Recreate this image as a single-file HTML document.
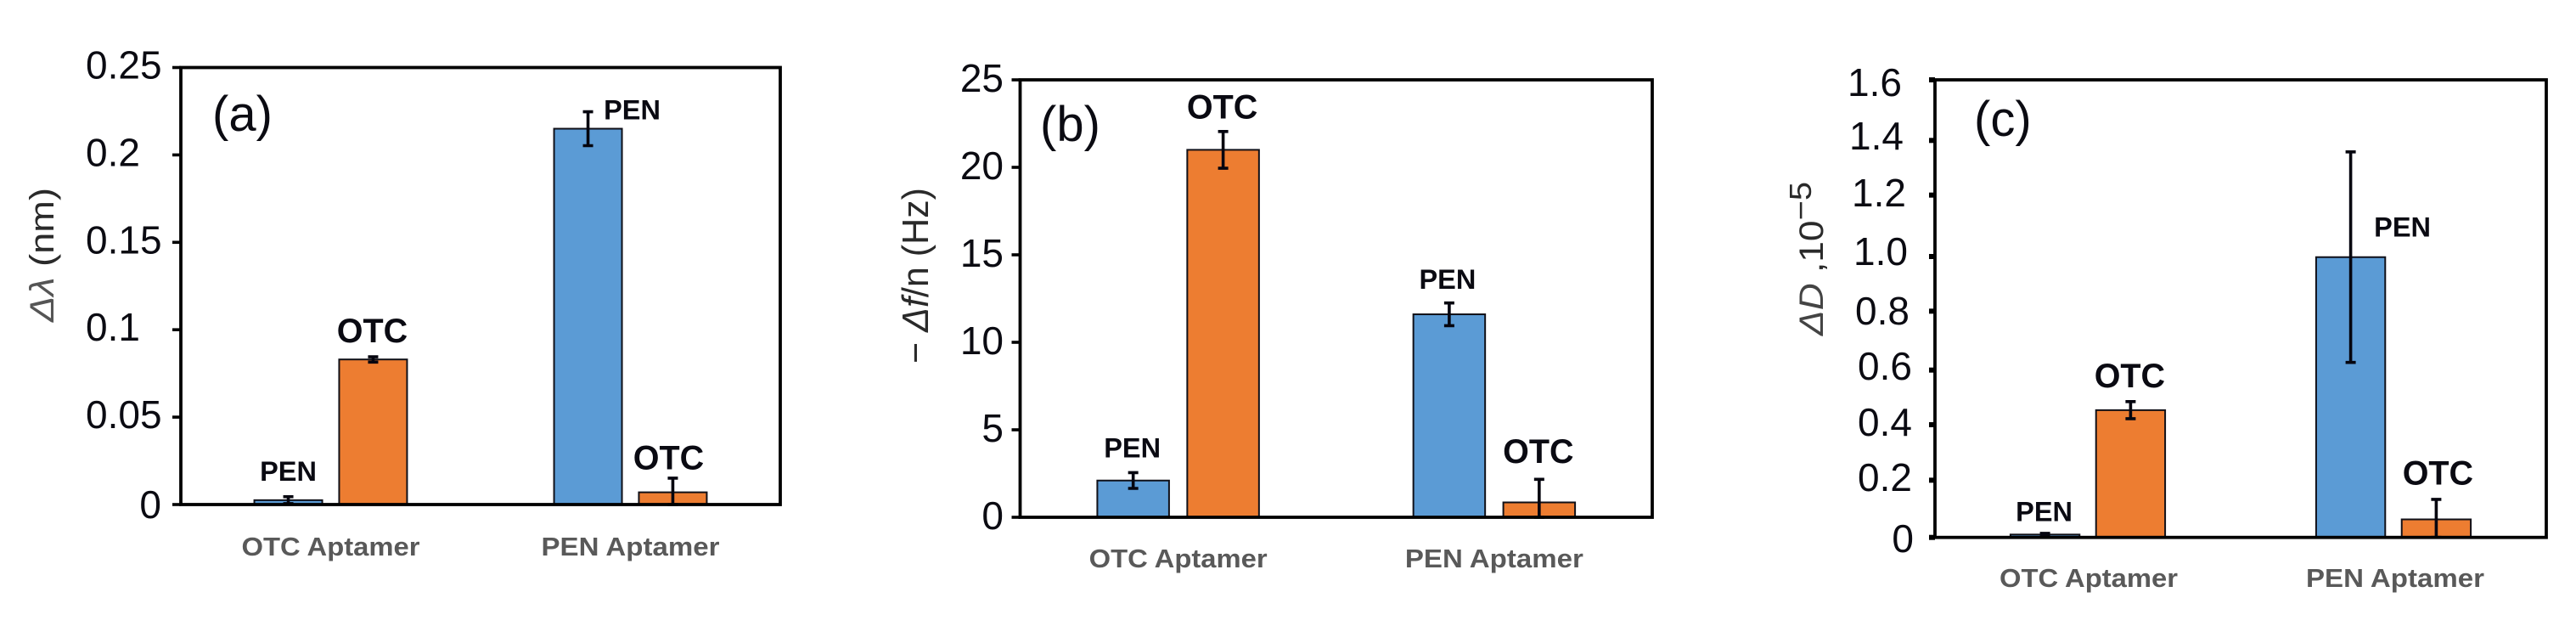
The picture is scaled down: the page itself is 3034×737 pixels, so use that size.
<!DOCTYPE html>
<html>
<head>
<meta charset="utf-8">
<title>Aptamer response bar charts</title>
<style>
html,body{margin:0;padding:0;background:#fff;width:3034px;height:737px;overflow:hidden}
svg{display:block;font-family:"Liberation Sans",sans-serif}
</style>
</head>
<body>
<svg id="figure" xmlns="http://www.w3.org/2000/svg" width="3034" height="737" viewBox="0 0 3034 737"></svg>
<script>
const categories = ['OTC Aptamer', 'PEN Aptamer'];
const seriesNames = ['PEN', 'OTC'];

const ticksA = ['0', '0.05', '0.1', '0.15', '0.2', '0.25'];
const penA = [0.0025, 0.215];
const otcA = [0.083, 0.007];
const penErrA = [0.002, 0.0097];
const otcErrA = [0.0015, 0.0081];

const ticksB = ['0', '5', '10', '15', '20', '25'];
const penB = [2.1, 11.6];
const otcB = [21, 0.85];
const penErrB = [0.45, 0.65];
const otcErrB = [1.05, 1.32];

const ticksC = ['0', '0.2', '0.4', '0.6', '0.8', '1.0', '1.2', '1.4', '1.6'];
const penC = [0.01, 0.98];
const otcC = [0.445, 0.063];
const penErrC = [0.004, 0.368];
const otcErrC = [0.03, 0.07];

const NS = 'http://www.w3.org/2000/svg';
const root = document.getElementById('figure');

function make(tag, attrs, parent, text) {
  const el = document.createElementNS(NS, tag);
  for (const k in attrs) el.setAttribute(k, attrs[k]);
  if (text !== undefined) el.textContent = text;
  (parent || root).appendChild(el);
  return el;
}

function drawPanel(p) {
  const group = make('g', {}, root);
  
  

  const max = parseFloat(p.ticks[p.ticks.length - 1]);
  const yScale = v => p.bottom - (v / max) * (p.bottom - p.top);
  const band = (p.right - p.left) / categories.length;
  const xCenter = i => p.left + band * (i + 0.5);
  const barW = band * p.barFrac;
  const offset = band * p.offFrac;

  // bars and error bars
  [p.pen, p.otc].forEach((vals, s) => {
    const errs = s === 0 ? p.penErr : p.otcErr;
    vals.forEach((v, i) => {
      const cx = xCenter(i) + (s === 0 ? -offset : offset);
      const y = yScale(v);
      const bar = make('rect', {x: cx - barW / 2, y: y, width: barW, height: p.bottom - y,
        fill: s === 0 ? '#5B9BD5' : '#ED7D31', stroke: '#101018', 'stroke-width': 2}, group);
      
      

      const hi = yScale(v + errs[i]);
      const lo = Math.min(yScale(v - errs[i]), p.bottom);
      const err = make('path', {d: 'M' + cx + ' ' + hi + 'V' + lo +
        'M' + (cx - 6) + ' ' + hi + 'H' + (cx + 6) +
        'M' + (cx - 6) + ' ' + lo + 'H' + (cx + 6),
        stroke: '#05050f', 'stroke-width': 3.6, fill: 'none'}, group);
      
      

      const anno = p.annot[s][i];
      const lab = make('text', {x: cx + anno[0], y: y + anno[1], 'text-anchor': 'middle', 'font-weight': 'bold',
        'font-size': s === 0 ? 32.5 : 39.5, fill: '#0a0a12'}, group, seriesNames[s]);
      
      
    });
  });

  // frame
  const frame = make('rect', {x: p.left, y: p.top, width: p.right - p.left, height: p.bottom - p.top,
    fill: 'none', stroke: '#000', 'stroke-width': 3.8}, group);
  
  

  // ticks and tick labels
  p.ticks.forEach((t, i) => {
    const y = yScale(parseFloat(t)) + (p.tickNudge ? p.tickNudge[i] : 0);
    const tick = make('line', {x1: p.left - p.tickLen, x2: p.left, y1: y, y2: y, stroke: '#000',
      'stroke-width': p.tickW}, group);
    
    

    const place = p.tickLabel(t, i, y);
    const lab = make('text', {x: place.x, y: place.y, 'text-anchor': place.anchor, 'font-size': 46,
      fill: '#0b0b12'}, group, t);
    
    
  });

  // category labels
  categories.forEach((c, i) => {
    const lab = make('text', {x: xCenter(i) + p.catDx[i], y: p.catY, 'text-anchor': 'middle', 'font-weight': 'bold',
      'font-size': 31, fill: '#595959', textLength: 210, lengthAdjust: 'spacingAndGlyphs'}, group, c);
    
    
  });

  // panel tag
  const tag = make('text', {x: p.tagX, y: p.tagY, 'font-size': 58, fill: '#0b0b12'}, group, '(' + p.id + ')');
  
  

  // y axis title
  const title = make('text', {transform: 'translate(' + p.titleX + ' ' + p.titleY + ') rotate(-90)',
    'font-size': p.titleSize, fill: '#2a2a2a', textLength: p.titleLen, lengthAdjust: 'spacingAndGlyphs'}, group);
  
  
  p.title.forEach(part => {
    const attrs = {};
    if (part.italic) attrs['font-style'] = 'italic';
    if (part.dy) attrs.dy = part.dy;
    if (part.size) attrs['font-size'] = part.size;
    if (part.fill) attrs.fill = part.fill;
    make('tspan', attrs, title, part.t);
  });
}

drawPanel({
  id: 'a', ticks: ticksA, pen: penA, otc: otcA, penErr: penErrA, otcErr: otcErrA,
  left: 213, right: 919, top: 79.5, bottom: 594, barFrac: 0.2266, offFrac: 0.1415,
  tickLen: 10, tickW: 3.6,
  annot: [[[0, -23], [52, -11]], [[-1, -20], [-5, -27]]],
  tickLabel: (t, i, y) => t === '0'
    ? {x: 190, y: y + 16, anchor: 'end'}
    : {x: 101, y: y + 13, anchor: 'start'},
  catDx: [0, 0], catY: 654,
  tagX: 250, tagY: 154,
  titleX: 63, titleY: 379, titleSize: 40, titleLen: 158,
  title: [{t: 'Δλ', italic: true, fill: '#555'}, {t: ' (nm)'}]
});

drawPanel({
  id: 'b', ticks: ticksB, pen: penB, otc: otcB, penErr: penErrB, otcErr: otcErrB,
  left: 1201.5, right: 1946, top: 94, bottom: 609, barFrac: 0.227, offFrac: 0.1423,
  tickLen: 10, tickW: 3.6,
  annot: [[[-1, -27], [-2, -30]], [[-1, -37], [-1, -46.5]]],
  tickLabel: (t, i, y) => ({x: 1182, y: y + 14, anchor: 'end'}),
  catDx: [0, 0], catY: 668,
  tagX: 1225, tagY: 166,
  titleX: 1093, titleY: 428, titleSize: 44, titleLen: 207,
  title: [{t: '− '}, {t: 'Δf', italic: true}, {t: '/n (Hz)'}]
});

drawPanel({
  id: 'c', ticks: ticksC, pen: penC, otc: otcC, penErr: penErrC, otcErr: otcErrC,
  left: 2279, right: 2999, top: 94, bottom: 632.7, barFrac: 0.226, offFrac: 0.14,
  tickLen: 7, tickW: 6,
  tickNudge: [0, 0, 2, 5, 3, 6, 1, 4, 0],
  annot: [[[-1, -16], [61, -24]], [[-1, -27], [2, -41]]],
  tickLabel: (t, i, y) => ({
    x: [2254, 2252, 2252, 2252, 2249, 2247, 2245, 2242, 2240][i],
    y: [650, 578, 513, 447, 382, 312, 243, 176, 113][i],
    anchor: 'end'
  }),
  catDx: [1, 2], catY: 691,
  tagX: 2325, tagY: 160,
  titleX: 2147, titleY: 395, titleSize: 40, titleLen: 181,
  title: [{t: 'ΔD', italic: true, fill: '#444'}, {t: ' ,10', size: 40}, {t: '−5', dy: -14, size: 36}]
});
</script>
</body>
</html>
